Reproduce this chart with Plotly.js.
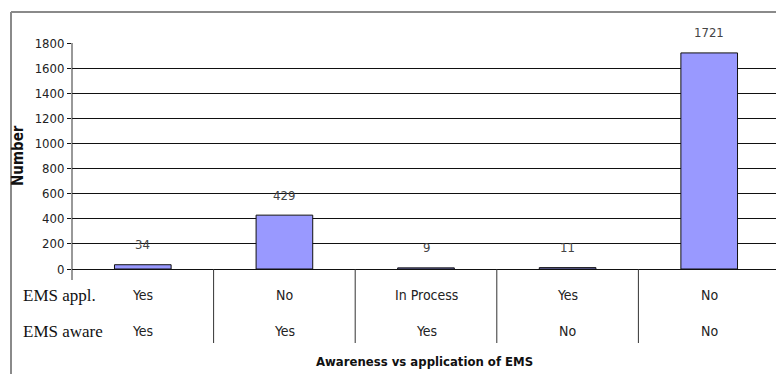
<!DOCTYPE html>
<html>
<head>
<meta charset="utf-8">
<script src="https://cdn.plot.ly/plotly-3.0.1.min.js"></script>
<style>html,body{margin:0;padding:0;background:#fff;}#chart{width:776px;height:374px;}</style>
</head>
<body>
<div id="chart"></div>
<script>
const categories = ["Cat1", "Cat2", "Cat3", "Cat4", "Cat5"];
const values = [34, 429, 9, 11, 1721];
const emsAppl = ["Yes", "No", "In Process", "Yes", "No"];
const emsAware = ["Yes", "Yes", "Yes", "No", "No"];
const rowLabels = ["EMS appl.", "EMS aware"];
const yTicks = [0, 200, 400, 600, 800, 1000, 1200, 1400, 1600, 1800];

const W = 776, H = 374;
const mL = 72, mR = 0, mT = 43, mB = 105;
const pw = W - mL - mR, ph = H - mT - mB;
const catW = 141.6;
const xr = [-0.5, -0.5 + pw / catW];
const px = v => (v - xr[0]) / (xr[1] - xr[0]);
const xp = pix => (pix - mL) / pw;
const yp = pix => (H - mB - pix) / ph;

const narrow = "'DejaVu Sans Condensed', 'Liberation Sans Narrow', 'Arial Narrow', Arial, sans-serif";

const annotations = [];
values.forEach((v, i) => {
  annotations.push({x: i, y: v, xref: 'x', yref: 'y', text: String(v), showarrow: false,
    yshift: 20, yanchor: 'middle', font: {family: narrow, size: 13, color: '#444'}});
});
[emsAppl, emsAware].forEach((row, r) => {
  const ypix = r === 0 ? 295 : 331;
  row.forEach((t, i) => {
    annotations.push({x: i, y: yp(ypix), xref: 'x', yref: 'paper', text: t, showarrow: false,
      yanchor: 'middle', font: {family: narrow, size: 14, color: '#222'}});
  });
  annotations.push({x: xp(21), y: yp(ypix), xref: 'paper', yref: 'paper', text: rowLabels[r],
    showarrow: false, xanchor: 'left', yanchor: 'middle',
    font: {family: "'Liberation Serif', 'Times New Roman', serif", size: 17, color: '#111'}});
});
annotations.push({x: 0.5, y: yp(362), xref: 'paper', yref: 'paper', text: '<b>Awareness vs application of EMS</b>',
  showarrow: false, yanchor: 'middle', font: {family: narrow, size: 13, color: '#111'}});
annotations.push({x: xp(18), y: yp(156), xref: 'paper', yref: 'paper', text: '<b>Number</b>', textangle: -90,
  showarrow: false, xanchor: 'center', yanchor: 'middle', font: {family: narrow, size: 15, color: '#111'}});

const shapes = [];
for (let i = 0; i < categories.length - 1; i++) {
  shapes.push({type: 'line', xref: 'paper', yref: 'paper', x0: px(i + 0.5), x1: px(i + 0.5),
    y0: 0, y1: yp(343), line: {color: '#333', width: 1}});
}
// y axis line extended
shapes.push({type: 'line', xref: 'paper', yref: 'paper', x0: 0, x1: 0, y0: yp(280), y1: 1, line: {color: '#333', width: 1}});
// outer frame (gray)
shapes.push({type: 'line', xref: 'paper', yref: 'paper', x0: xp(11), x1: xp(776), y0: yp(12), y1: yp(12), line: {color: '#8a8a8a', width: 2}});
shapes.push({type: 'line', xref: 'paper', yref: 'paper', x0: xp(11), x1: xp(11), y0: yp(12), y1: yp(374), line: {color: '#8a8a8a', width: 2}});

const trace = {
  type: 'bar', x: categories.map((c, i) => i), y: values, width: 0.4,
  marker: {color: '#9999ff', line: {color: '#111', width: 1}},
  hoverinfo: 'none'
};

const layout = {
  width: W, height: H,
  margin: {l: mL, r: mR, t: mT, b: mB, pad: 0},
  paper_bgcolor: '#fff', plot_bgcolor: '#fff',
  showlegend: false,
  xaxis: {range: xr, showticklabels: false, showgrid: false, zeroline: false, showline: false, ticks: ''},
  yaxis: {range: [0, 1800], tickvals: yTicks, ticktext: yTicks.map(String), ticks: 'outside', ticklen: 4,
    tickcolor: '#111', showgrid: true, gridcolor: '#111', gridwidth: 1, zeroline: true, zerolinecolor: '#111',
    showline: false, tickfont: {family: narrow, size: 13, color: '#222'}},
  annotations: annotations,
  shapes: shapes
};

Plotly.newPlot('chart', [trace], layout, {displayModeBar: false, staticPlot: true});
</script>
</body>
</html>
